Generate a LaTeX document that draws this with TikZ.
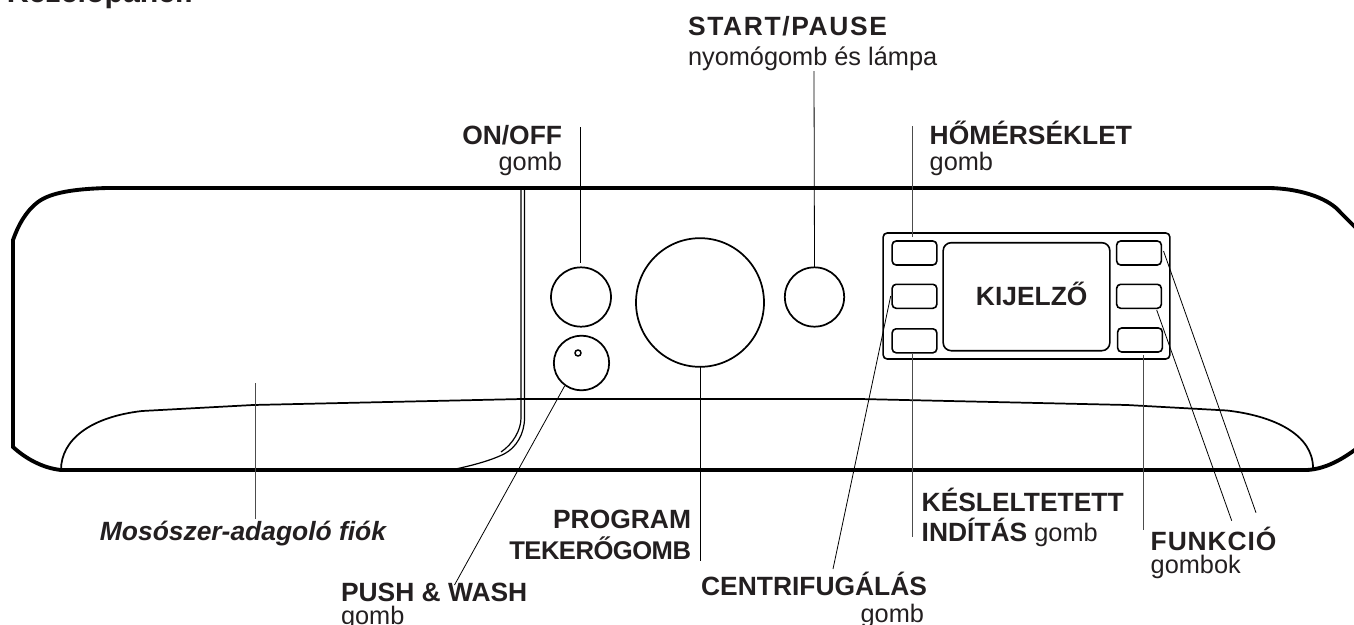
\documentclass[tikz,border=0pt]{standalone}
\usepackage{fontspec}
\setmainfont{Liberation Sans}
\definecolor{ink}{HTML}{231F20}
\newcommand{\bigfont}{\fontsize{19.8}{23}\selectfont\bfseries}
\newcommand{\smallfont}{\fontsize{19.0}{22}\selectfont}
\tikzset{
  txt/.style={inner sep=0pt,outer sep=0pt,text=ink,font=\smallfont},
  lab/.style={txt,font=\bigfont},
  outline/.style={line width=2.9pt,black,line cap=round},
  curve/.style={line width=1.3pt,black},
  thinc/.style={line width=0.9pt,black},
  knob/.style={draw=black,line width=1.3pt,ellipse,inner sep=0pt,outer sep=0pt},
  btn/.style={draw=black,line width=1.2pt,rectangle,rounded corners=3pt,minimum width=33.5pt,minimum height=18pt,inner sep=0pt,outer sep=0pt},
  lead/.style={line width=0.75pt,black!70},
  leadthin/.style={line width=0.6pt,black},
}
\usetikzlibrary{shapes.geometric}
\begin{document}
\begin{tikzpicture}[x=0.75pt,y=-0.75pt]
\useasboundingbox (0,0) rectangle (1354,625);
\clip (0,0) rectangle (1354,625);
% housing
\draw[outline] (1270,188) -- (107,188) .. controls (72,189) and (50,193) .. (38,202) .. controls (25,212) and (18,226) .. (13,240) -- (13,447) .. controls (25,458) and (42,468) .. (61,470) -- (1307,470) .. controls (1325,469) and (1342,460) .. (1360,446);
\draw[outline] (1270,188) .. controls (1305,189) and (1330,200) .. (1340,212) .. controls (1346,218) and (1350,222) .. (1356,228);
% front lip
\draw[curve] (61,470) .. controls (61,440) and (90,417) .. (142,411) -- (253,405) -- (522,399) -- (860,399) -- (1127,405) -- (1227,410.5) .. controls (1275,416) and (1313,435) .. (1313,468);
% drawer edge
\draw[thinc] (521,188) -- (521,418) .. controls (521,430) and (513,444) .. (501,452);
\draw[thinc] (524.5,188) -- (524.5,418) .. controls (524.5,434) and (516,448) .. (504,454) .. controls (490,461) and (470,466) .. (451,470);
% knobs
\node[knob,minimum width=45pt,minimum height=44.5pt] (onoff) at (581,297) {};
\node[knob,minimum width=41.5pt,minimum height=41pt] (push) at (581.5,363) {};
\node[draw=black,line width=1.1pt,circle,minimum size=4.5pt,inner sep=0pt] (pushdot) at (578,353) {};
\node[knob,minimum width=96pt,minimum height=96.5pt] (prog) at (700,302.5) {};
\node[knob,minimum width=44.5pt,minimum height=44.5pt] (start) at (814.5,297) {};
% panel
\node[btn,minimum width=215pt,minimum height=94.5pt] (panel) at (1026.5,296) {};
\node[btn,minimum width=125pt,minimum height=81pt,rounded corners=6pt] (display) at (1026.5,296.7) {};
\node[btn] (ltop) at (914.5,253) {};
\node[btn] (lmid) at (914.5,296.3) {};
\node[btn] (lbot) at (914.5,340.8) {};
\node[btn] (rtop) at (1139,253) {};
\node[btn] (rmid) at (1139,296.3) {};
\node[btn] (rbot) at (1140,340) {};
\node[lab,anchor=base] (kij) at (1031.7,305) {KIJELZŐ};
% labels
\node[lab,anchor=base west] (title) at (7,2) {\fontsize{22.7}{26}\selectfont Kezelőpanel:};
\node[lab,anchor=base west] (startl) at (688,35) {\addfontfeature{LetterSpace=6.3}START/PAUSE};
\node[txt,anchor=base west] (startg) at (688,65) {nyomógomb és lámpa};
\node[lab,anchor=base east] (onl) at (562,144) {ON/OFF};
\node[txt,anchor=base east] (ong) at (562,170) {gomb};
\node[lab,anchor=base west] (heat) at (929.7,144) {HŐMÉRSÉKLET};
\node[txt,anchor=base west] (heatg) at (929.7,170) {gomb};
\node[lab,anchor=base east] (mos) at (386,540) {\itshape Mosószer-adagoló fiók};
\node[lab,anchor=base east] (progl) at (691,528) {PROGRAM};
\node[lab,anchor=base east] (progt) at (691,559) {\fontsize{19.2}{23}\selectfont\addfontfeature{LetterSpace=-2}TEKERŐGOMB};
\node[lab,anchor=base west] (pw) at (341,601) {PUSH \& WASH};
\node[txt,anchor=base west] (pwg) at (341,624) {gomb};
\node[lab,anchor=base east] (cen) at (927,595) {CENTRIFUGÁLÁS};
\node[txt,anchor=base east] (ceng) at (924,622) {gomb};
\node[lab,anchor=base west] (kes) at (921.7,511.7) {KÉSLELTETETT};
\node[txt,anchor=base west] (ind) at (921.7,541) {{\bfseries\fontsize{19.8}{23}\selectfont INDÍTÁS} gomb};
\node[lab,anchor=base west] (fun) at (1150.7,550) {\addfontfeature{LetterSpace=3.5}FUNKCIÓ};
\node[txt,anchor=base west] (fung) at (1150.7,573.3) {gombok};
% leader ends
\coordinate (eOn) at (580.5,127);
\coordinate (eOnB) at (580.5,263);
\coordinate (eStart) at (814,71);
\coordinate (eHeat) at (912.5,126);
\coordinate (eHeatB) at (912.5,237);
\coordinate (eMosA) at (255,383);
\coordinate (eMosB) at (255,519);
\coordinate (ePushA) at (564.6,386);
\coordinate (ePushB) at (454.5,585);
\coordinate (eProg) at (700,561);
\coordinate (eCenA) at (890.7,296);
\coordinate (eCenB) at (833,569);
\coordinate (eKesA) at (912,354);
\coordinate (eKesB) at (912,537);
\coordinate (eFunA) at (1143.7,355);
\coordinate (eFunB) at (1143.7,530);
\coordinate (eF2A) at (1156.7,310);
\coordinate (eF2B) at (1231.7,520.7);
\coordinate (eF3A) at (1163.5,251);
\coordinate (eF3B) at (1256,512.7);
% leaders
\draw[leadthin] (eOn) -- (eOnB);
\draw[leadthin] (eStart) -- (start.north);
\draw[lead] (eHeat) -- (eHeatB);
\draw[lead] (eMosA) -- (eMosB);
\draw[leadthin] (ePushA) -- (ePushB);
\draw[leadthin] (prog.south) -- (eProg);
\draw[leadthin] (eCenA) -- (eCenB);
\draw[lead] (eKesA) -- (eKesB);
\draw[lead] (eFunA) -- (eFunB);
\draw[leadthin] (eF2A) -- (eF2B);
\draw[leadthin] (eF3A) -- (eF3B);
\end{tikzpicture}
\end{document}
